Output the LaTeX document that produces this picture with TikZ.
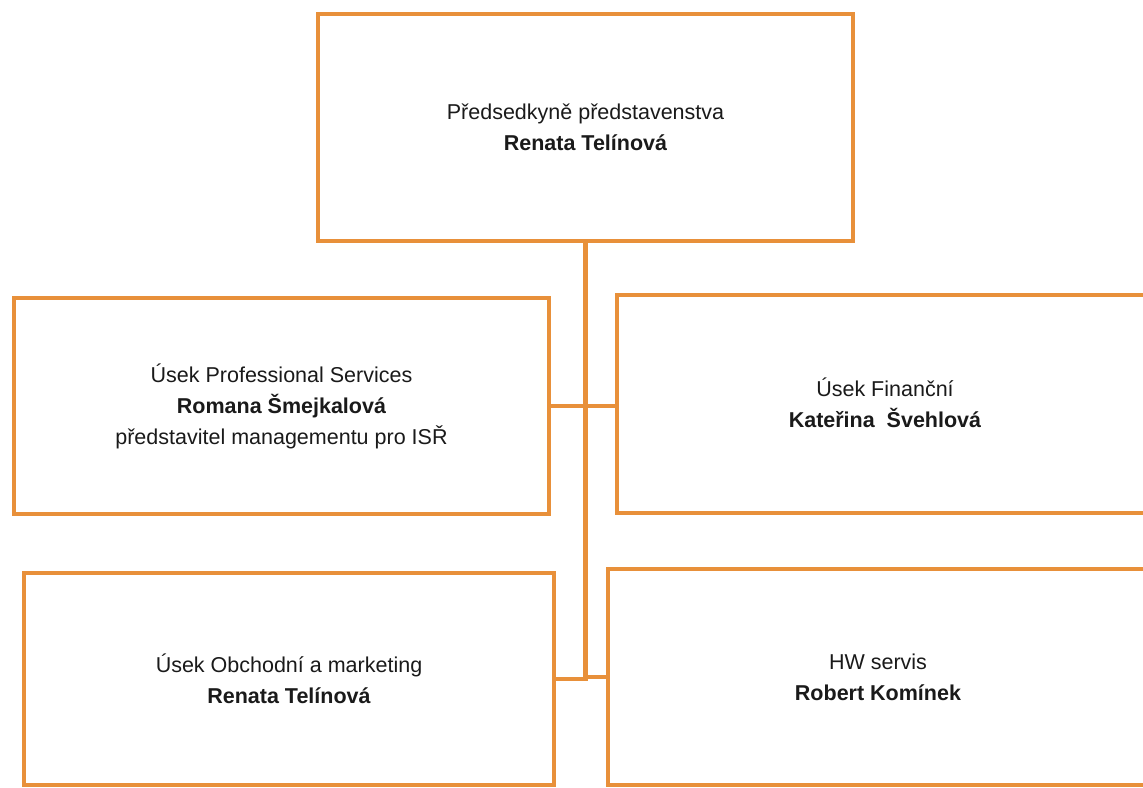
\documentclass[tikz,border=0pt]{standalone}
\usepackage{fontspec}
\setmainfont{Liberation Sans}
\usepackage{xcolor}
\usepackage{tikz}
\usetikzlibrary{positioning}
\definecolor{orgOrange}{HTML}{E8903A}
\definecolor{orgText}{HTML}{1A1A1A}

\begin{document}
\begin{tikzpicture}[x=1pt,y=-1pt,
    unitbox/.style={draw=orgOrange,line width=4pt,fill=white,align=center,
                    text=orgText,font=\fontsize{21.5}{31}\selectfont,inner sep=0pt},
    unittext/.style={align=center,text=orgText,font=\fontsize{21.5}{31}\selectfont},
    orgline/.style={draw=orgOrange,line width=4.5pt}]
    \clip (0,0) rectangle (1143,787);
    \fill[white] (0,0) rectangle (1143,787);
    \node[unitbox,minimum width=535pt,minimum height=227pt] (chair) at (585.5,127.5)
      {Předsedkyně představenstva\\\textbf{Renata Telínová}};
    \node[unitbox,minimum width=535pt,minimum height=216pt] (prof) at (281.5,406)
      {Úsek Professional Services\\\textbf{Romana Šmejkalová}\\představitel managementu pro ISŘ};
    \node[unitbox,minimum width=540pt,minimum height=218pt] (fin) at (887,404) {};
    \node[unittext] (finT) at (885,403)
      {Úsek Finanční\\\textbf{Kateřina\ \ Švehlová}};
    \node[unitbox,minimum width=530pt,minimum height=212pt] (obch) at (289,679)
      {Úsek Obchodní a marketing\\\textbf{Renata Telínová}};
    \node[unitbox,minimum width=550pt,minimum height=216pt] (hw) at (883,677) {};
    \node[unittext] (hwT) at (878,677)
      {HW servis\\\textbf{Robert Komínek}};
    % connectors
    \draw[orgline] (chair.south) -- (chair.south |- obch.east);
    \draw[orgline] (prof.east) -- (prof.east -| fin.west);
    \draw[orgline] (obch.east) -- (chair.south |- obch.east)
                   -- (chair.south |- hw.west) -- (hw.west);
\end{tikzpicture}
\end{document}
